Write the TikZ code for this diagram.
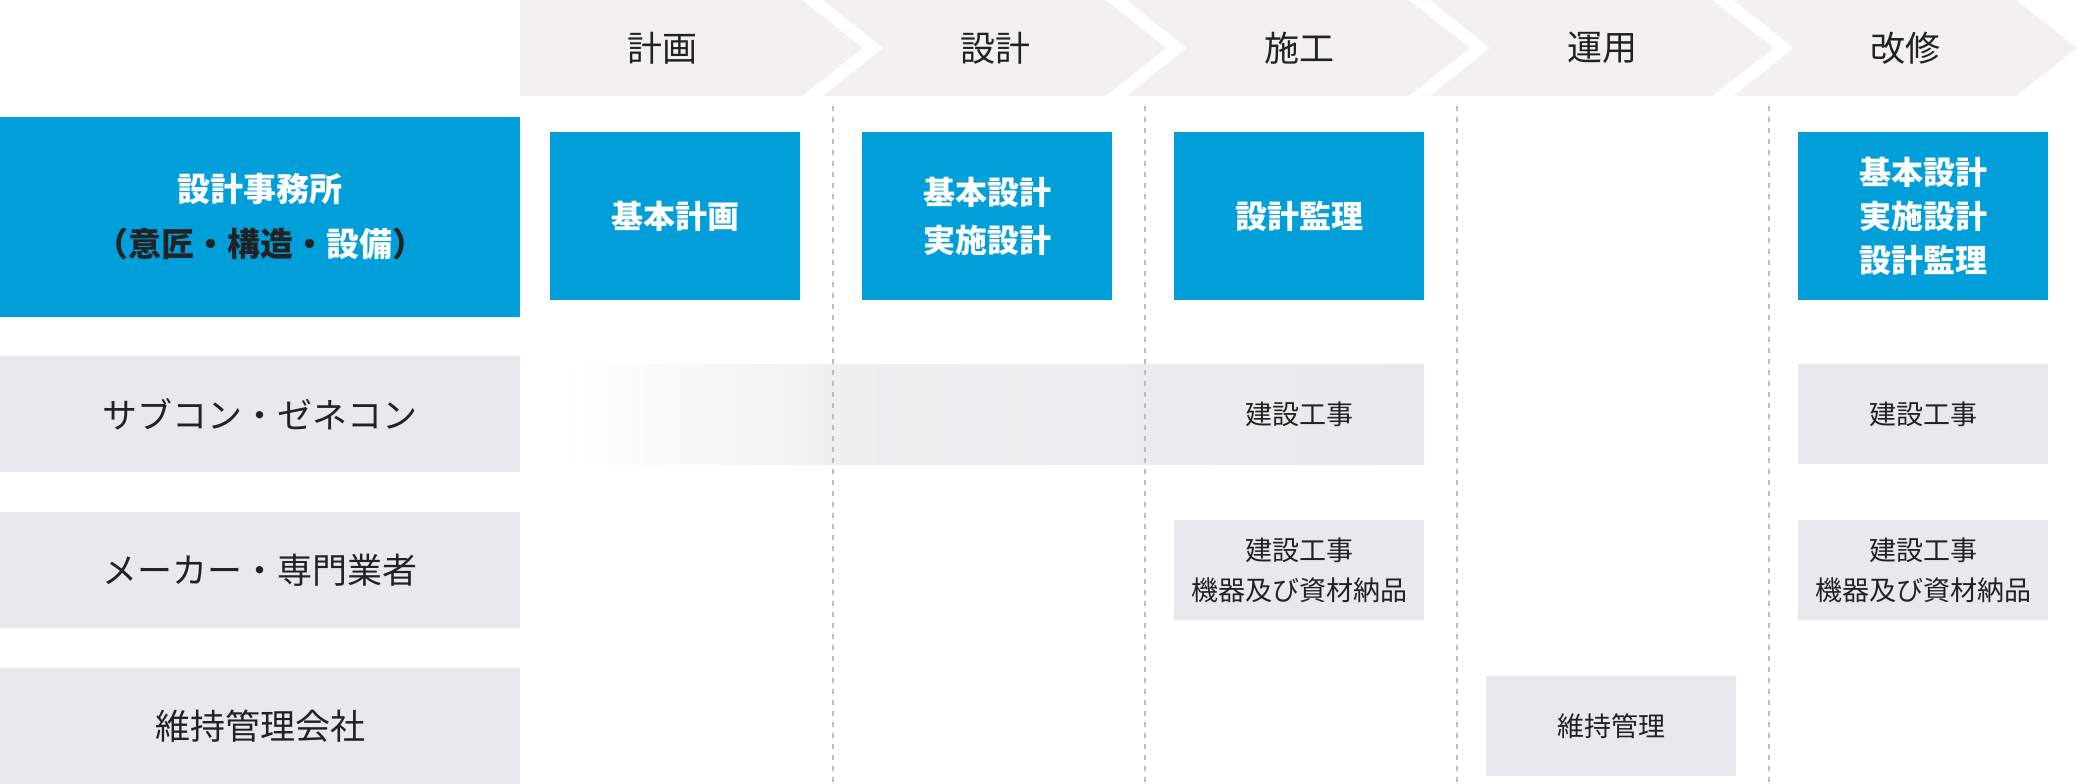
\documentclass[tikz,border=0pt]{standalone}
\usepackage{fontspec}
\setmainfont{Noto Sans CJK JP}
\definecolor{bandgray}{HTML}{F2F1EF}
\definecolor{rowgray}{HTML}{E8E9EC}
\definecolor{softgray}{HTML}{F0F0F1}
\definecolor{boxblue}{HTML}{009FD9}
\definecolor{ink}{HTML}{222222}
\definecolor{sepgray}{HTML}{BDBDBD}
\begin{document}
\begin{tikzpicture}[x=1pt,y=-1pt,
	phase/.style={text=ink,font=\fontsize{35}{40}\selectfont},
	rowname/.style={fill=rowgray,text=ink,inner sep=0,minimum width=520pt,minimum height=116pt,font=\fontsize{35}{40}\selectfont},
	bluebox/.style={fill=boxblue,text=white,inner sep=0,align=center,minimum width=250pt,minimum height=168pt,font=\bfseries\fontsize{32}{48}\selectfont},
	graybox/.style={fill=rowgray,text=ink,inner sep=0,align=center,minimum width=250pt,minimum height=100pt,font=\fontsize{27}{40}\selectfont}]
		\useasboundingbox (0,0) rectangle (2080,784);

		\fill[bandgray] (520,0) -- (802,0) -- (863,48) -- (802,96) -- (520,96) -- cycle;
		\fill[bandgray] (823,0) -- (1105.5,0) -- (1166.5,48) -- (1105.5,96) -- (823,96) -- (883,48) -- cycle;
		\fill[bandgray] (1126.5,0) -- (1409,0) -- (1470,48) -- (1409,96) -- (1126.5,96) -- (1186.5,48) -- cycle;
		\fill[bandgray] (1430,0) -- (1712.5,0) -- (1773.5,48) -- (1712.5,96) -- (1430,96) -- (1490,48) -- cycle;
		\fill[bandgray] (1733.5,0) -- (2016,0) -- (2077,48) -- (2016,96) -- (1733.5,96) -- (1793.5,48) -- cycle;

		\node[phase] (hplan) at (662,48) {計画};
		\node[phase] (hdesign) at (995,48) {設計};
		\node[phase] (hbuild) at (1299,48) {施工};
		\node[phase] (hoper) at (1602,48) {運用};
		\node[phase] (hrenov) at (1905,48) {改修};

		\node[fill=boxblue,inner sep=0,align=center,minimum width=520pt,minimum height=200pt,font=\bfseries\fontsize{33}{55}\selectfont] (office) at (260,217)
			{\textcolor{white}{設計事務所}\\\textcolor{ink}{（意匠・構造・}\textcolor{white}{設備}\textcolor{ink}{）}};
		\node[rowname] (subcon) at (260,414) {サブコン・ゼネコン};
		\node[rowname] (maker) at (260,570) {メーカー・専門業者};
		\node[rowname] (maint) at (260,726) {維持管理会社};

		\shade[left color=white,right color=softgray] (563,364) rectangle (833,464);
		\shade[left color=softgray,right color=rowgray] (833,364) rectangle (1424,464);

		\draw[sepgray,line width=1.5pt,dash pattern=on 5pt off 6pt] (833,106) -- (833,784);
		\draw[sepgray,line width=1.5pt,dash pattern=on 5pt off 6pt] (1145,106) -- (1145,784);
		\draw[sepgray,line width=1.5pt,dash pattern=on 5pt off 6pt] (1457,106) -- (1457,784);
		\draw[sepgray,line width=1.5pt,dash pattern=on 5pt off 6pt] (1769,106) -- (1769,784);

		\node[bluebox] (bplan) at (675,216) {基本計画};
		\node[bluebox] (bdesign) at (987,216) {基本設計\\実施設計};
		\node[bluebox] (bsuper) at (1299,216) {設計監理};
		\node[bluebox,font=\bfseries\fontsize{32}{44}\selectfont] (brenov) at (1923,216) {基本設計\\実施設計\\設計監理};

		\node[graybox,fill=none] (gbuild) at (1299,414) {建設工事};
		\node[graybox] (gbuildr) at (1923,414) {建設工事};
		\node[graybox] (gmaker) at (1299,570) {建設工事\\機器及び資材納品};
		\node[graybox] (gmakerr) at (1923,570) {建設工事\\機器及び資材納品};
		\node[graybox] (gmaint) at (1611,726) {維持管理};
	\end{tikzpicture}
\end{document}
